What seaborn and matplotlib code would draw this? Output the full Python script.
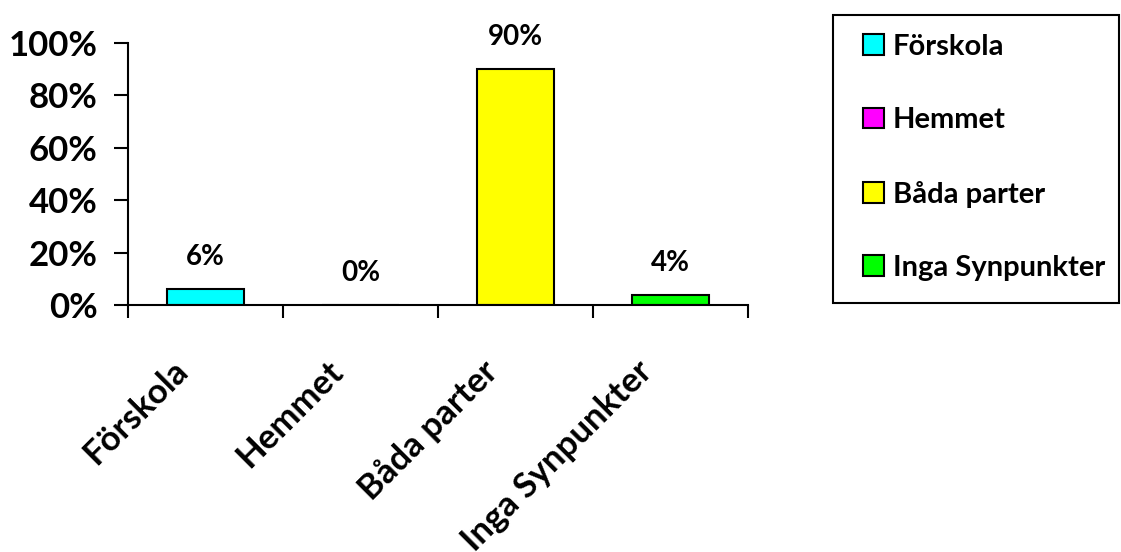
import numpy as np
import pandas as pd
import matplotlib
matplotlib.use('Agg')
import matplotlib.pyplot as plt
from matplotlib.patches import Patch, Rectangle
from matplotlib.ticker import PercentFormatter, FixedLocator
from matplotlib.transforms import ScaledTranslation
import seaborn as sns

# Data
categories = ['Förskola', 'Hemmet', 'Båda parter', 'Inga Synpunkter']
values = [0.06, 0.00, 0.90, 0.04]
labels = ['6%', '0%', '90%', '4%']
colors = ['#00FFFF', '#FF00FF', '#FFFF00', '#00FF00']

sns.set_style('white')
plt.rcParams['font.family'] = ['Lato', 'DejaVu Sans']
plt.rcParams['font.weight'] = 'bold'
plt.rcParams['text.color'] = 'black'
plt.rcParams['xtick.color'] = 'black'
plt.rcParams['ytick.color'] = 'black'

df = pd.DataFrame({'cat': categories, 'val': values})

fig = plt.figure(figsize=(11.21, 5.52), dpi=100)
ax = fig.add_axes([128 / 1121, 1 - 305 / 552, 620 / 1121, 262 / 552])

sns.barplot(data=df, x='cat', y='val', hue='cat', palette=colors, order=categories,
            hue_order=categories, width=0.5, saturation=1, edgecolor='black',
            linewidth=1.5, legend=False, ax=ax)

ax.set_xlim(-0.5, 3.5)
ax.set_ylim(0, 1)
ax.yaxis.set_major_formatter(PercentFormatter(1.0, decimals=0))
ax.set_yticks([0, 0.2, 0.4, 0.6, 0.8, 1.0])
ax.set_xlabel('')
ax.set_ylabel('')

for s in ['top', 'right']:
    ax.spines[s].set_visible(False)
for s in ['left', 'bottom']:
    ax.spines[s].set_linewidth(1.5)
    ax.spines[s].set_color('black')

# ticks between categories
ax.xaxis.set_minor_locator(FixedLocator([-0.5, 0.5, 1.5, 2.5, 3.5]))
ax.tick_params(axis='x', which='minor', length=9.5, width=1.5, direction='out', bottom=True)
ax.tick_params(axis='x', which='major', length=0, pad=0, bottom=True)
ax.tick_params(axis='y', which='major', length=10, width=1.5, direction='out', left=True, pad=12)

for lab in ax.get_yticklabels():
    lab.set_fontsize(25)
    lab.set_fontweight('bold')
shift = ScaledTranslation(-0.23, -0.61, fig.dpi_scale_trans)
for lab in ax.get_xticklabels():
    lab.set_fontsize(25)
    lab.set_fontweight('bold')
    lab.set_rotation(45)
    lab.set_ha('right')
    lab.set_va('center')
    lab.set_rotation_mode('anchor')
    lab.set_transform(lab.get_transform() + shift)

for i, (v, t) in enumerate(zip(values, labels)):
    ax.annotate(t, xy=(i, v), xytext=(0, 23), textcoords='offset points',
                ha='center', va='center', fontsize=20, fontweight='bold')

# legend with its own frame
fig.add_artist(Rectangle((833 / 1121, 1 - 303 / 552), (1119 - 833) / 1121, (303 - 15) / 552,
                         transform=fig.transFigure, fill=False, edgecolor='black', linewidth=1.5))
handles = [Patch(facecolor=c, edgecolor='black', linewidth=1.5, label=n)
           for c, n in zip(colors, categories)]
fig.legend(handles=handles, loc='upper left', bbox_to_anchor=(863 / 1121, 1 - 34 / 552),
           frameon=False, prop={'size': 21, 'weight': 'bold'},
           handlelength=0.72, handleheight=0.72, handletextpad=0.31, labelspacing=1.62,
           borderaxespad=0, borderpad=0)

fig.savefig('out.png', dpi=100, facecolor='white')
